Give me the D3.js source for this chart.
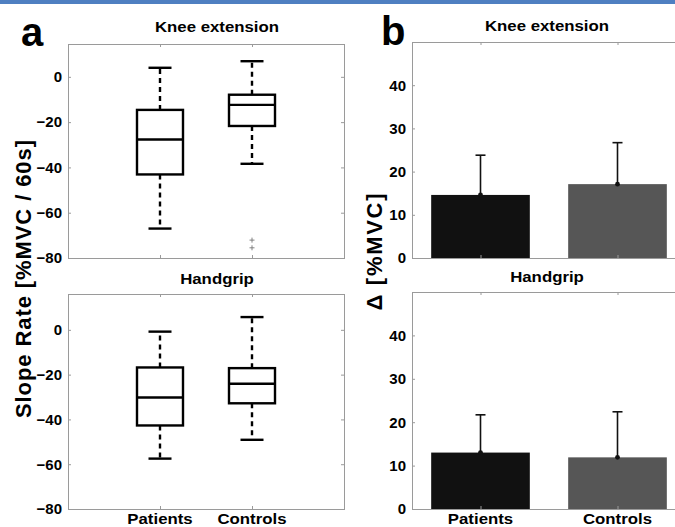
<!DOCTYPE html>
<html>
<head>
<meta charset="utf-8">
<script src="https://cdn.jsdelivr.net/npm/d3@7"></script>
<style>
  html, body { margin: 0; padding: 0; background: #fff; }
  svg { display: block; }
  text { font-family: "Liberation Sans", Arial, Helvetica, sans-serif; font-weight: bold; fill: #000; }
</style>
</head>
<body>
<script>
// ---------------- data ----------------
const categories = ["Patients", "Controls"];

// Panel a: box plots (slope rate, %MVC / 60s)
const kneeWhiskerHigh = [4.0, 6.9];
const kneeQ3          = [-14.6, -7.9];
const kneeMedian      = [-27.7, -12.4];
const kneeQ1          = [-43.1, -21.7];
const kneeWhiskerLow  = [-67.0, -38.4];
const kneeOutliers    = [[], [-72.1, -75.5]];

const gripWhiskerHigh = [-0.8, 5.7];
const gripQ3          = [-16.8, -17.1];
const gripMedian      = [-30.2, -24.1];
const gripQ1          = [-42.7, -32.8];
const gripWhiskerLow  = [-57.5, -49.1];
const gripOutliers    = [[], []];

// Panel b: bar charts (Δ %MVC) with SD
const kneeMean = [14.6, 17.1];
const kneeSD   = [9.2, 9.6];
const gripMean = [13.0, 11.9];
const gripSD   = [8.7, 10.5];

const yTicksA = [-80, -60, -40, -20, 0];
const yTicksB = [0, 10, 20, 30, 40];
const barColors = ["#111111", "#565656"];

// ---------------- drawing ----------------
const W = 675, H = 527;
const svg = d3.select("body").append("svg").attr("width", W).attr("height", H);

svg.append("rect").attr("x", 0).attr("y", 0).attr("width", W).attr("height", 4).attr("fill", "#4f7fc1");

const AX = "#9a9a9a";
const STRETCH = 1.2;

function frame(g, x, y, ticks) {
  const [x0, x1] = x.range();
  const [yb, yt] = y.range();
  const catPos = [1, 2];
  const left = g.append("g").attr("transform", `translate(${x0},0)`)
    .call(d3.axisLeft(y).tickValues(ticks).tickSize(-3).tickPadding(6).tickFormat(d3.format("d")));
  left.select(".domain").remove();
  left.selectAll(".tick line").attr("stroke", AX);
  left.selectAll(".tick text").attr("font-size", 15).attr("font-family", null).attr("fill", "#000")
      .style("font-weight", "bold");
  const right = g.append("g").attr("transform", `translate(${x1},0)`)
    .call(d3.axisRight(y).tickValues(ticks).tickSize(-3).tickFormat(""));
  right.select(".domain").remove();
  right.selectAll(".tick line").attr("stroke", AX);
  const top = g.append("g").attr("transform", `translate(0,${yt})`)
    .call(d3.axisTop(x).tickValues(catPos).tickSize(-3).tickFormat(""));
  top.select(".domain").remove();
  top.selectAll(".tick line").attr("stroke", AX);
  const bot = g.append("g").attr("transform", `translate(0,${yb})`)
    .call(d3.axisBottom(x).tickValues(catPos).tickSize(-3).tickFormat(""));
  bot.select(".domain").remove();
  bot.selectAll(".tick line").attr("stroke", AX);
  g.append("rect").attr("x", x0 + 0.5).attr("y", yt + 0.5).attr("width", x1 - x0).attr("height", yb - yt)
    .attr("fill", "none").attr("stroke", AX).attr("stroke-width", 1);
}

function stretchedText(g, x, y, str, size, anchor) {
  return g.append("text")
    .attr("transform", `translate(${x},${y}) scale(${STRETCH},1)`)
    .attr("text-anchor", anchor || "middle")
    .attr("font-size", size)
    .text(str);
}

function xLabels(g, x, yb) {
  categories.forEach((c, i) => {
    stretchedText(g, x(i + 1), yb + 15, c, 14);
  });
}

function boxPanel(g, x, y, hi, q3, med, q1, lo, outl) {
  const bw = x(0.5) - x(0), cw = x(0.25) - x(0);
  const lw = 2.4;
  categories.forEach((c, i) => {
    const cx = x(i + 1);
    g.append("line").attr("x1", cx).attr("x2", cx).attr("y1", y(q3[i])).attr("y2", y(hi[i]))
      .attr("stroke", "#000").attr("stroke-width", lw).attr("stroke-dasharray", "5,4");
    g.append("line").attr("x1", cx).attr("x2", cx).attr("y1", y(q1[i])).attr("y2", y(lo[i]))
      .attr("stroke", "#000").attr("stroke-width", lw).attr("stroke-dasharray", "5,4");
    [hi[i], lo[i]].forEach(v => {
      g.append("line").attr("x1", cx - cw / 2).attr("x2", cx + cw / 2).attr("y1", y(v)).attr("y2", y(v))
        .attr("stroke", "#000").attr("stroke-width", lw);
    });
    g.append("rect").attr("x", cx - bw / 2).attr("y", y(q3[i])).attr("width", bw)
      .attr("height", y(q1[i]) - y(q3[i])).attr("fill", "#fff").attr("stroke", "#000").attr("stroke-width", lw);
    g.append("line").attr("x1", cx - bw / 2).attr("x2", cx + bw / 2).attr("y1", y(med[i])).attr("y2", y(med[i]))
      .attr("stroke", "#000").attr("stroke-width", lw);
    outl[i].forEach(v => {
      const yy = y(v);
      g.append("path").attr("d", `M${cx - 2.5},${yy}H${cx + 2.5}M${cx},${yy - 2.5}V${yy + 2.5}`)
        .attr("stroke", "#777").attr("stroke-width", 0.9).attr("fill", "none");
    });
  });
}

function barPanel(g, x, y, mean, sd) {
  const bw = x(0.72) - x(0);
  categories.forEach((c, i) => {
    const cx = x(i + 1);
    g.append("rect").attr("x", cx - bw / 2).attr("y", y(mean[i])).attr("width", bw)
      .attr("height", y(0) - y(mean[i])).attr("fill", barColors[i]);
    const top = y(mean[i] + sd[i]);
    g.append("line").attr("x1", cx).attr("x2", cx).attr("y1", y(mean[i])).attr("y2", top)
      .attr("stroke", "#111").attr("stroke-width", 1.6);
    g.append("line").attr("x1", cx - 5).attr("x2", cx + 5).attr("y1", top).attr("y2", top)
      .attr("stroke", "#111").attr("stroke-width", 1.6);
    g.append("circle").attr("cx", cx).attr("cy", y(mean[i])).attr("r", 2.4).attr("fill", "#111");
  });
}

// ---- panel a ----
const xA = d3.scaleLinear().domain([0, 3]).range([68, 344]);
const yA1 = d3.scaleLinear().domain([-80, 14.5]).range([258, 44]);
const yA2 = d3.scaleLinear().domain([-80, 16]).range([509, 294]);

const gA1 = svg.append("g");
frame(gA1, xA, yA1, yTicksA);
boxPanel(gA1, xA, yA1, kneeWhiskerHigh, kneeQ3, kneeMedian, kneeQ1, kneeWhiskerLow, kneeOutliers);
stretchedText(svg, 217, 32, "Knee extension", 14);

const gA2 = svg.append("g");
frame(gA2, xA, yA2, yTicksA);
boxPanel(gA2, xA, yA2, gripWhiskerHigh, gripQ3, gripMedian, gripQ1, gripWhiskerLow, gripOutliers);
stretchedText(svg, 217, 284, "Handgrip", 14);
xLabels(svg, xA, 509);

// ---- panel b ----
const xB = d3.scaleLinear().domain([0.5, 2.5]).range([412, 686]);
const yB1 = d3.scaleLinear().domain([0, 50]).range([258, 42]);
const yB2 = d3.scaleLinear().domain([0, 50]).range([509, 292]);

const gB1 = svg.append("g");
barPanel(gB1, xB, yB1, kneeMean, kneeSD);
frame(gB1, xB, yB1, yTicksB);
stretchedText(svg, 547, 31, "Knee extension", 14);

const gB2 = svg.append("g");
barPanel(gB2, xB, yB2, gripMean, gripSD);
frame(gB2, xB, yB2, yTicksB);
stretchedText(svg, 547, 282, "Handgrip", 14);
xLabels(svg, xB, 509);

// ---- panel letters & y labels ----
svg.append("text").attr("x", 21).attr("y", 46).attr("font-size", 40).text("a");
svg.append("text").attr("x", 381).attr("y", 45).attr("font-size", 40).text("b");

svg.append("text")
  .attr("transform", "translate(31,279) rotate(-90)")
  .attr("text-anchor", "middle").attr("font-size", 22)
  .attr("textLength", 278).attr("lengthAdjust", "spacing")
  .text("Slope Rate  [%MVC / 60s]");

svg.append("text")
  .attr("transform", "translate(382,252) rotate(-90)")
  .attr("text-anchor", "middle").attr("font-size", 22)
  .attr("textLength", 117).attr("lengthAdjust", "spacing")
  .text("Δ  [%MVC]");
</script>
</body>
</html>
